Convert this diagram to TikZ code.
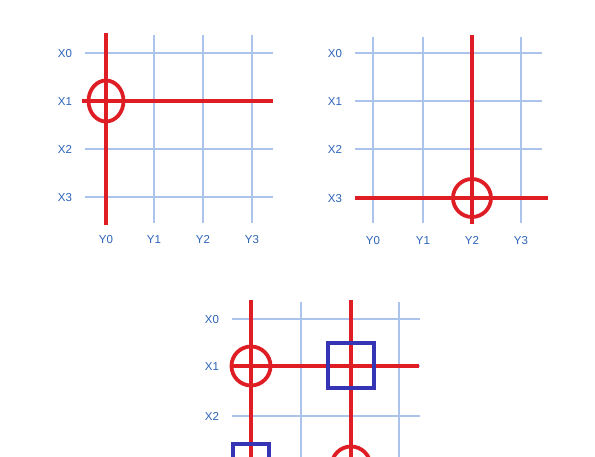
\documentclass[tikz,border=0pt]{standalone}
\usepackage{fontspec}
\setmainfont{Liberation Sans}
\definecolor{gridc}{RGB}{172,196,236}
\definecolor{lblc}{RGB}{44,100,184}
\definecolor{redc}{RGB}{222,30,36}
\definecolor{sqc}{RGB}{52,52,180}
\begin{document}
\begin{tikzpicture}[x=1pt,y=-1pt,
  gridline/.style={gridc,line width=2.6pt},
  lbl/.style={lblc,font=\fontsize{11.5}{13}\selectfont,inner sep=0pt,text height=8.3pt,text depth=0pt},
  redline/.style={redc,line width=4.3pt},
  redring/.style={redc,line width=3.8pt},
  bluesq/.style={sqc,line width=3.3pt}]
\useasboundingbox (0,0) rectangle (595,457);
\clip (0,0) rectangle (595,457);
\fill[white] (0,0) rectangle (595,457);
% ---------- grid 1 ----------
\foreach \y [count=\i from 0] in {53,101,149,197} {
  \draw[gridline] (85,\y) -- (273,\y);
  \node[lbl] (g1x\i) at (65,\y) {X\i};
}
\foreach \x [count=\i from 0] in {106,154,203,252} {
  \draw[gridline] (\x,35) -- (\x,223);
  \node[lbl] (g1y\i) at (\x,239) {Y\i};
}
\draw[redline] (106,33) -- (106,225);
\draw[redline] (82,101) -- (273,101);
\draw[redring] (106,101) ellipse [x radius=17.5, y radius=20.5];
% ---------- grid 2 ----------
\foreach \y [count=\i from 0] in {53,101,149,198} {
  \draw[gridline] (355,\y) -- (542,\y);
  \node[lbl] (g2x\i) at (335,\y) {X\i};
}
\foreach \x [count=\i from 0] in {373,423,472,521} {
  \draw[gridline] (\x,37) -- (\x,223);
  \node[lbl] (g2y\i) at (\x,240) {Y\i};
}
\draw[redline] (472,35) -- (472,224);
\draw[redline] (355,198) -- (548,198);
\draw[redring] (472,198) circle [radius=19];
% ---------- grid 3 ----------
\foreach \y [count=\i from 0] in {319,366,416,464} {
  \draw[gridline] (232,\y) -- (420,\y);
  \node[lbl] (g3x\i) at (212,\y) {X\i};
}
\foreach \x in {251,301,351,399} {
  \draw[gridline] (\x,302) -- (\x,480);
}
\draw[redline] (251,300) -- (251,480);
\draw[redline] (351,300) -- (351,480);
\draw[redline] (232,366) -- (419,366);
\draw[redring] (251,366) circle [radius=19.5];
\draw[redring] (351,466) circle [radius=19.5];
\draw[bluesq] (328,343) rectangle (374,388);
\draw[bluesq] (233,444) rectangle (269,484);
\end{tikzpicture}
\end{document}
